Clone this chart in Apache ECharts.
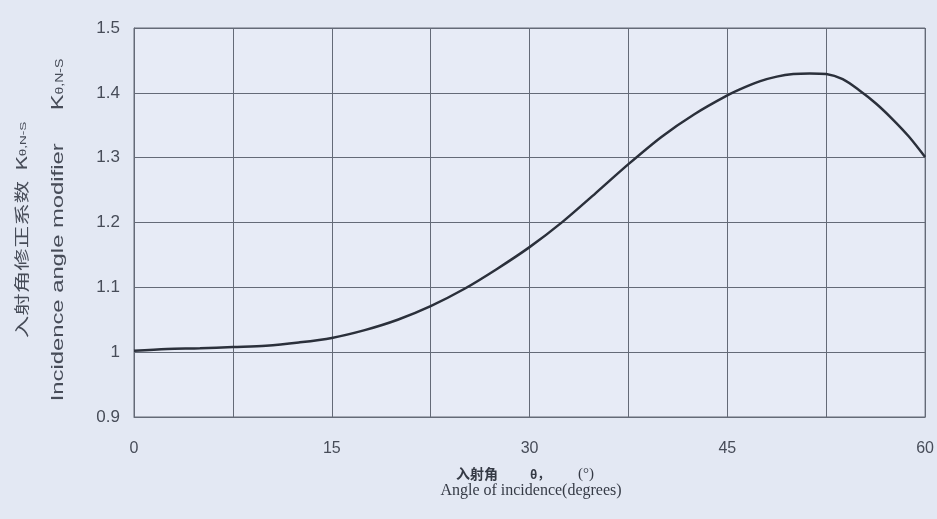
<!DOCTYPE html>
<html><head><meta charset="utf-8">
<script src="https://cdn.jsdelivr.net/npm/echarts@6/dist/echarts.min.js"></script>
<style>html,body{margin:0;padding:0;background:#e3e8f3;}#c{width:937px;height:519px;}</style>
</head><body><div id="c"></div>
<script>
const angles = [0,2.5,5,7.5,10,12.5,15,17.5,20,22.5,25,27.5,30,32.5,35,37.5,40,42.5,45,46.25,47.5,48.75,50,51.25,52.5,53.75,55,56.25,57.5,58.75,60];
const kValues = [1.002,1.005,1.006,1.008,1.010,1.015,1.022,1.034,1.050,1.071,1.097,1.128,1.162,1.201,1.245,1.290,1.332,1.367,1.396,1.408,1.418,1.425,1.429,1.430,1.429,1.421,1.404,1.384,1.360,1.333,1.301];
const xTickLabels = [0,15,30,45,60];
const yTickLabels = [0.9,1,1.1,1.2,1.3,1.4,1.5];

const chart = echarts.init(document.getElementById('c'), null, {renderer:'canvas'});
const txt = '#474c58';
const gridCol = '#646a77';
const nameCol = '#353a45';
chart.setOption({
  backgroundColor: '#e3e8f3',
  animation: false,
  grid: {left:134, right:11, top:28, bottom:102, show:true, backgroundColor:'#e7ebf6', borderColor:gridCol, borderWidth:1},
  xAxis: {
    type:'value', min:0, max:60, interval:7.5,
    axisLine:{show:true, lineStyle:{color:gridCol}},
    axisTick:{show:false},
    splitLine:{show:true, lineStyle:{color:gridCol, width:1}},
    axisLabel:{margin:24, color:txt, fontFamily:'"Liberation Sans", Arial', fontSize:16,
      formatter: v => xTickLabels.includes(v) ? String(v) : ''}
  },
  yAxis: {
    type:'value', min:0.9, max:1.5, interval:0.1,
    axisLine:{show:true, lineStyle:{color:gridCol}},
    axisTick:{show:false},
    splitLine:{show:true, lineStyle:{color:gridCol, width:1}},
    axisLabel:{margin:14, color:txt, fontFamily:'"Liberation Sans", Arial', fontSize:17,
      formatter: v => { const m = yTickLabels.find(t => Math.abs(t - v) < 1e-6); return m === undefined ? '' : String(m); }}
  },
  series: [{
    type:'line', smooth:0.3, showSymbol:false,
    data: angles.map((a,i)=>[a,kValues[i]]),
    lineStyle:{color:'#2b303b', width:2.5}
  }],
  graphic: [
    {type:'text', x:21, y:230, rotation:Math.PI/2, scaleX:1.5, scaleY:1,
      style:{text:'入射角修正系数  K{s|θ,N-S}', fill:txt, font:'15px "Noto Sans CJK SC"', textAlign:'center', textVerticalAlign:'middle',
        rich:{s:{fontSize:9, fill:txt, padding:[5,0,0,0]}}}},
    {type:'text', x:58, y:230, rotation:Math.PI/2, scaleX:1.4, scaleY:1,
      style:{text:'Incidence angle modifier     K{s|θ,N-S}', fill:txt, font:'17px "Liberation Sans", Arial', textAlign:'center', textVerticalAlign:'middle',
        rich:{s:{fontSize:10, fill:txt, padding:[5,0,0,0]}}}},
    {type:'text', x:456, y:474,
      style:{text:'入射角', fill:nameCol, font:'bold 14px "Noto Sans CJK SC"', textAlign:'left', textVerticalAlign:'middle'}},
    {type:'text', x:530, y:474,
      style:{text:'θ，', fill:nameCol, font:'bold 12px "Noto Sans CJK SC"', textAlign:'left', textVerticalAlign:'middle'}},
    {type:'text', x:578, y:474,
      style:{text:'(°)', fill:nameCol, font:'15px "Liberation Serif", "Times New Roman"', textAlign:'left', textVerticalAlign:'middle'}},
    {type:'text', x:531, y:491,
      style:{text:'Angle of incidence(degrees)', fill:nameCol, font:'16px "Liberation Serif", "Times New Roman"', textAlign:'center', textVerticalAlign:'middle'}}
  ]
});
</script></body></html>
